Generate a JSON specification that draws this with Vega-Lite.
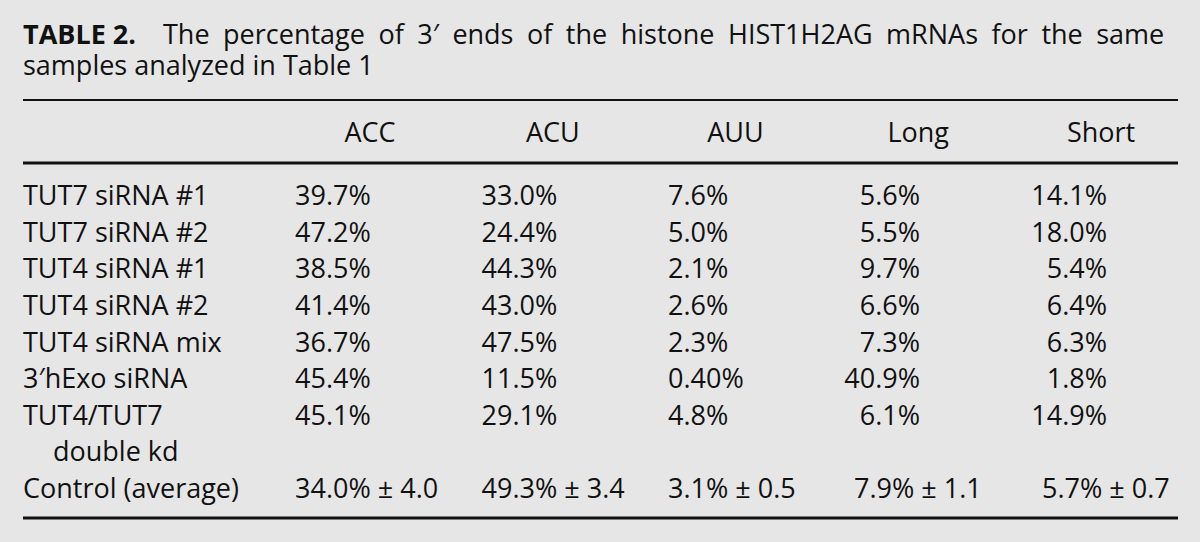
{
  "$schema": "https://vega.github.io/schema/vega-lite/v6.json",
  "width": 1155,
  "height": 542,
  "autosize": {"type": "none"},
  "padding": {"left": 23, "right": 22, "top": 0, "bottom": 0},
  "background": "#e6e6e6",
  "config": {
    "view": {"stroke": null},
    "text": {"font": "Open Sans", "fontSize": 27, "color": "#111111", "baseline": "alphabetic"}
  },
  "datasets": {
    "caption": [
      {"line": -2, "segment": "start", "kind": "label", "text": "TABLE 2."},
      {"line": -2, "segment": "after label", "kind": "caption", "text": "The\u2002percentage\u2002of\u20023\u2032\u2002ends\u2002of\u2002the\u2002histone\u2002HIST1H2AG\u2002mRNAs\u2002for\u2002the\u2002same"},
      {"line": -1, "segment": "start", "kind": "caption", "text": "samples analyzed in Table 1"}
    ],
    "headers": [
      {"line": 0, "column": "ACC"},
      {"line": 0, "column": "ACU"},
      {"line": 0, "column": "AUU"},
      {"line": 0, "column": "Long"},
      {"line": 0, "column": "Short"}
    ],
    "labels": [
      {"line": 1, "level": 0, "label": "TUT7 siRNA #1"},
      {"line": 2, "level": 0, "label": "TUT7 siRNA #2"},
      {"line": 3, "level": 0, "label": "TUT4 siRNA #1"},
      {"line": 4, "level": 0, "label": "TUT4 siRNA #2"},
      {"line": 5, "level": 0, "label": "TUT4 siRNA mix"},
      {"line": 6, "level": 0, "label": "3′hExo siRNA"},
      {"line": 7, "level": 0, "label": "TUT4/TUT7"},
      {"line": 8, "level": 1, "label": "double kd"},
      {"line": 9, "level": 0, "label": "Control (average)"}
    ],
    "cells": [
      {"line": 1, "sample": "TUT7 siRNA #1", "column": "ACC", "value": "39.7%"},
      {"line": 1, "sample": "TUT7 siRNA #1", "column": "ACU", "value": "33.0%"},
      {"line": 1, "sample": "TUT7 siRNA #1", "column": "AUU", "value": "7.6%"},
      {"line": 1, "sample": "TUT7 siRNA #1", "column": "Long", "value": "5.6%"},
      {"line": 1, "sample": "TUT7 siRNA #1", "column": "Short", "value": "14.1%"},
      {"line": 2, "sample": "TUT7 siRNA #2", "column": "ACC", "value": "47.2%"},
      {"line": 2, "sample": "TUT7 siRNA #2", "column": "ACU", "value": "24.4%"},
      {"line": 2, "sample": "TUT7 siRNA #2", "column": "AUU", "value": "5.0%"},
      {"line": 2, "sample": "TUT7 siRNA #2", "column": "Long", "value": "5.5%"},
      {"line": 2, "sample": "TUT7 siRNA #2", "column": "Short", "value": "18.0%"},
      {"line": 3, "sample": "TUT4 siRNA #1", "column": "ACC", "value": "38.5%"},
      {"line": 3, "sample": "TUT4 siRNA #1", "column": "ACU", "value": "44.3%"},
      {"line": 3, "sample": "TUT4 siRNA #1", "column": "AUU", "value": "2.1%"},
      {"line": 3, "sample": "TUT4 siRNA #1", "column": "Long", "value": "9.7%"},
      {"line": 3, "sample": "TUT4 siRNA #1", "column": "Short", "value": "5.4%"},
      {"line": 4, "sample": "TUT4 siRNA #2", "column": "ACC", "value": "41.4%"},
      {"line": 4, "sample": "TUT4 siRNA #2", "column": "ACU", "value": "43.0%"},
      {"line": 4, "sample": "TUT4 siRNA #2", "column": "AUU", "value": "2.6%"},
      {"line": 4, "sample": "TUT4 siRNA #2", "column": "Long", "value": "6.6%"},
      {"line": 4, "sample": "TUT4 siRNA #2", "column": "Short", "value": "6.4%"},
      {"line": 5, "sample": "TUT4 siRNA mix", "column": "ACC", "value": "36.7%"},
      {"line": 5, "sample": "TUT4 siRNA mix", "column": "ACU", "value": "47.5%"},
      {"line": 5, "sample": "TUT4 siRNA mix", "column": "AUU", "value": "2.3%"},
      {"line": 5, "sample": "TUT4 siRNA mix", "column": "Long", "value": "7.3%"},
      {"line": 5, "sample": "TUT4 siRNA mix", "column": "Short", "value": "6.3%"},
      {"line": 6, "sample": "3′hExo siRNA", "column": "ACC", "value": "45.4%"},
      {"line": 6, "sample": "3′hExo siRNA", "column": "ACU", "value": "11.5%"},
      {"line": 6, "sample": "3′hExo siRNA", "column": "AUU", "value": "0.40%"},
      {"line": 6, "sample": "3′hExo siRNA", "column": "Long", "value": "40.9%"},
      {"line": 6, "sample": "3′hExo siRNA", "column": "Short", "value": "1.8%"},
      {"line": 7, "sample": "TUT4/TUT7 double kd", "column": "ACC", "value": "45.1%"},
      {"line": 7, "sample": "TUT4/TUT7 double kd", "column": "ACU", "value": "29.1%"},
      {"line": 7, "sample": "TUT4/TUT7 double kd", "column": "AUU", "value": "4.8%"},
      {"line": 7, "sample": "TUT4/TUT7 double kd", "column": "Long", "value": "6.1%"},
      {"line": 7, "sample": "TUT4/TUT7 double kd", "column": "Short", "value": "14.9%"},
      {"line": 9, "sample": "Control (average)", "column": "ACC", "value": "34.0% ± 4.0"},
      {"line": 9, "sample": "Control (average)", "column": "ACU", "value": "49.3% ± 3.4"},
      {"line": 9, "sample": "Control (average)", "column": "AUU", "value": "3.1% ± 0.5"},
      {"line": 9, "sample": "Control (average)", "column": "Long", "value": "7.9% ± 1.1"},
      {"line": 9, "sample": "Control (average)", "column": "Short", "value": "5.7% ± 0.7"}
    ],
    "rules": [
      {"line": -0.5, "rule": "above header"},
      {"line": 0.5, "rule": "below header"},
      {"line": 9.5, "rule": "table end"}
    ]
  },
  "encoding": {
    "y": {
      "field": "line",
      "type": "quantitative",
      "axis": null,
      "scale": {
        "domain": [-2, -1, -0.5, 0, 0.5, 1, 9, 9.5],
        "range": [44, 75, 100, 142, 163, 205, 498, 518],
        "zero": false,
        "nice": false
      }
    }
  },
  "layer": [
    {
      "data": {"name": "rules"},
      "transform": [{"filter": "datum.rule === 'above header'"}],
      "mark": {"type": "rule", "color": "#111111", "strokeWidth": 2.2},
      "encoding": {}
    },
    {
      "data": {"name": "rules"},
      "transform": [{"filter": "datum.rule !== 'above header'"}],
      "mark": {"type": "rule", "color": "#111111", "strokeWidth": 3},
      "encoding": {}
    },
    {
      "data": {"name": "caption"},
      "transform": [{"filter": "datum.kind === 'label'"}],
      "mark": {"type": "text", "align": "left", "fontWeight": "bold"},
      "encoding": {
        "x": {"field": "segment", "type": "nominal", "axis": null, "scale": {"type": "point", "padding": 0, "domain": ["start", "after label"], "range": [0, 140]}},
        "text": {"field": "text"}
      }
    },
    {
      "data": {"name": "caption"},
      "transform": [{"filter": "datum.kind === 'caption'"}],
      "mark": {"type": "text", "align": "left"},
      "encoding": {
        "x": {"field": "segment", "type": "nominal", "axis": null, "scale": {"type": "point", "padding": 0, "domain": ["start", "after label"], "range": [0, 140]}},
        "text": {"field": "text"}
      }
    },
    {
      "data": {"name": "headers"},
      "mark": {"type": "text", "align": "center"},
      "encoding": {
        "x": {"field": "column", "type": "nominal", "axis": null, "scale": {"type": "point", "padding": 0, "domain": ["ACC", "ACU", "AUU", "Long", "Short"], "range": [347, 1078]}},
        "text": {"field": "column"}
      }
    },
    {
      "data": {"name": "labels"},
      "mark": {"type": "text", "align": "left"},
      "encoding": {
        "x": {"field": "level", "type": "nominal", "axis": null, "scale": {"type": "point", "padding": 0, "domain": [0, 1], "range": [0, 30]}},
        "text": {"field": "label"}
      }
    },
    {
      "data": {"name": "cells"},
      "transform": [{"filter": "indexof(['ACC','ACU','AUU'], datum.column) >= 0"}],
      "mark": {"type": "text", "align": "left"},
      "encoding": {
        "x": {"field": "column", "type": "nominal", "axis": null, "scale": {"type": "point", "padding": 0, "domain": ["ACC", "ACU", "AUU"], "range": [272, 645]}},
        "text": {"field": "value"}
      }
    },
    {
      "data": {"name": "cells"},
      "transform": [{"filter": "indexof(['Long','Short'], datum.column) >= 0 && datum.sample !== 'Control (average)'"}],
      "mark": {"type": "text", "align": "right"},
      "encoding": {
        "x": {"field": "column", "type": "nominal", "axis": null, "scale": {"type": "point", "padding": 0, "domain": ["Long", "Short"], "range": [897, 1084]}},
        "text": {"field": "value"}
      }
    },
    {
      "data": {"name": "cells"},
      "transform": [{"filter": "indexof(['Long','Short'], datum.column) >= 0 && datum.sample === 'Control (average)'"}],
      "mark": {"type": "text", "align": "left"},
      "encoding": {
        "x": {"field": "column", "type": "nominal", "axis": null, "scale": {"type": "point", "padding": 0, "domain": ["Long", "Short"], "range": [831, 1019]}},
        "text": {"field": "value"}
      }
    }
  ],
  "resolve": {"scale": {"x": "independent"}}
}
